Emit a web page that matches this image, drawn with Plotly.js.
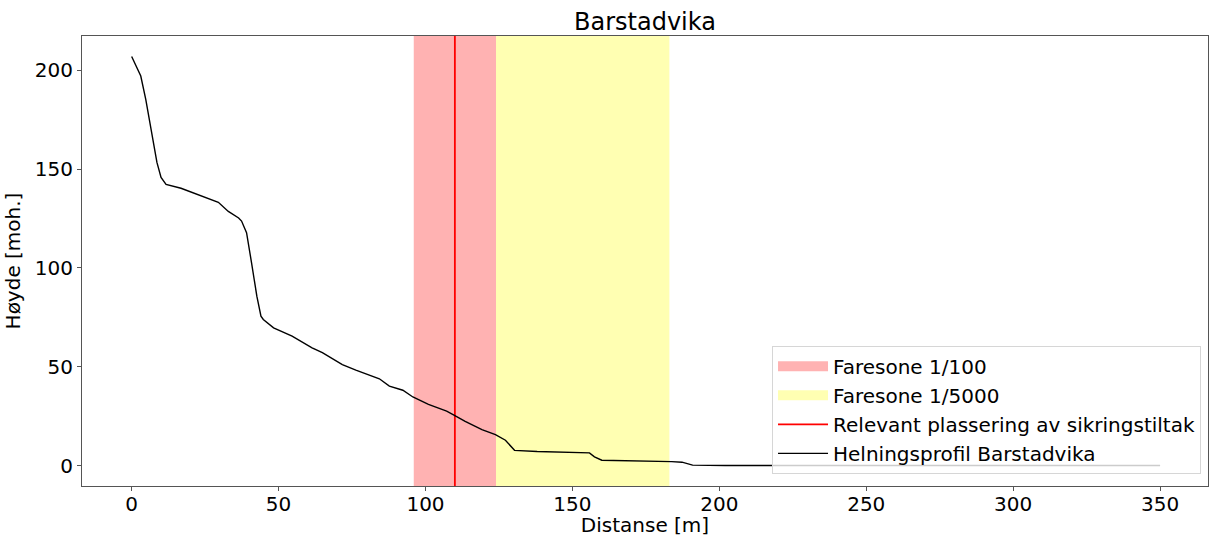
<!DOCTYPE html>
<html>
<head>
<meta charset="utf-8">
<script src="https://cdn.plot.ly/plotly-3.0.1.min.js"></script>
<style>html,body{margin:0;padding:0;background:#fff;}#chart{width:1209px;height:537px;}</style>
</head>
<body>
<div id="chart"></div>
<script>
// Slope profile (distance in m, height in m.o.h.)
const distance = [0, 1.4, 3.1, 4.8, 6.5, 8.6, 10, 11.7, 16.8, 20.2, 24.7, 29.5, 32.9, 36.4, 37.4, 39.1, 40.8, 42.6, 44, 44.8, 48.3, 54.6, 61.4, 64.9, 71.7, 76.3, 84.3, 87.7, 92.3, 95.7, 101, 107.2, 110, 113.5, 119.2, 123.8, 127.2, 128.9, 130.3, 138, 155.8, 157.5, 160, 183.8, 187.3, 190.9, 202, 250, 300, 350];
const height   = [207, 202.2, 197.1, 185.3, 170.1, 153.4, 145.8, 142.3, 140.3, 138.4, 135.7, 133.2, 128.6, 125.3, 123.7, 117.8, 102.6, 85.7, 75.6, 73.9, 69.7, 65.5, 59.6, 57.1, 51.1, 48.3, 43.9, 40.2, 38.1, 34.7, 31, 27.5, 25.3, 22.4, 18.2, 15.7, 12.8, 9.8, 7.7, 7.1, 6.4, 4.4, 2.7, 2.0, 1.7, 0.2, 0, 0, 0, 0];

// Hazard zones [start, end]
const zone100  = [96, 124];
const zone5000 = [124, 183];
// Relevant placement of protective measure
const measureX = 110;

const xRange = [-16.9, 366.3];
const yRange = [-10.35, 217.35];

const red30 = 'rgba(255,0,0,0.3)';
const yel30 = 'rgba(255,255,0,0.3)';

function zoneShape(zone, color) {
  return {type: 'rect', xref: 'x', yref: 'paper', x0: zone[0], x1: zone[1], y0: 0, y1: 1,
          fillcolor: color, line: {width: 0}, layer: 'below'};
}

function legendPatch(name, color) {
  return {x: [null], y: [null], mode: 'lines', line: {color: color, width: 14}, name: name, hoverinfo: 'skip'};
}

const traces = [
  legendPatch('Faresone 1/100', red30),
  legendPatch('Faresone 1/5000', yel30),
  {x: [measureX, measureX], y: yRange, mode: 'lines', line: {color: '#ff0000', width: 1.8},
   name: 'Relevant plassering av sikringstiltak'},
  {x: distance, y: height, mode: 'lines', line: {color: '#000000', width: 1.4},
   name: 'Helningsprofil Barstadvika'}
];

const FF = 'DejaVu Sans, sans-serif';

const layout = {
  width: 1209, height: 537,
  margin: {l: 82, r: 1, t: 36, b: 51},
  paper_bgcolor: '#fff', plot_bgcolor: '#fff',
  font: {family: FF, size: 20, color: '#000'},
  title: {text: 'Barstadvika', font: {family: FF, size: 24, color: '#000'}, x: 0.5, xref: 'paper', y: 0.959, yref: 'container', yanchor: 'middle'},
  showlegend: true,
  shapes: [zoneShape(zone100, red30), zoneShape(zone5000, yel30)],
  legend: {x: 0.9938, xanchor: 'right', y: 0.027, yanchor: 'bottom',
           bgcolor: 'rgba(255,255,255,0.8)', bordercolor: '#d6d6d6', borderwidth: 1,
           font: {family: FF, size: 20, color: '#000'}, itemwidth: 50, tracegroupgap: 0},
  xaxis: {range: xRange, tickvals: [0, 50, 100, 150, 200, 250, 300, 350],
          showgrid: false, zeroline: false, showline: true, mirror: true, linecolor: '#555', linewidth: 1,
          ticks: 'outside', ticklen: 4, tickcolor: '#555', ticklabelstandoff: -4,
          tickfont: {family: FF, size: 20, color: '#000'},
          title: {text: 'Distanse [m]', font: {family: FF, size: 20, color: '#000'}, standoff: 2}},
  yaxis: {range: yRange, tickvals: [0, 50, 100, 150, 200],
          showgrid: false, zeroline: false, showline: true, mirror: true, linecolor: '#555', linewidth: 1,
          ticks: 'outside', ticklen: 4, tickcolor: '#555',
          tickfont: {family: FF, size: 20, color: '#000'},
          title: {text: 'Høyde [moh.]', font: {family: FF, size: 20, color: '#000'}, standoff: 8}}
};

Plotly.newPlot('chart', traces, layout, {displayModeBar: false, staticPlot: true});
</script>
</body>
</html>
